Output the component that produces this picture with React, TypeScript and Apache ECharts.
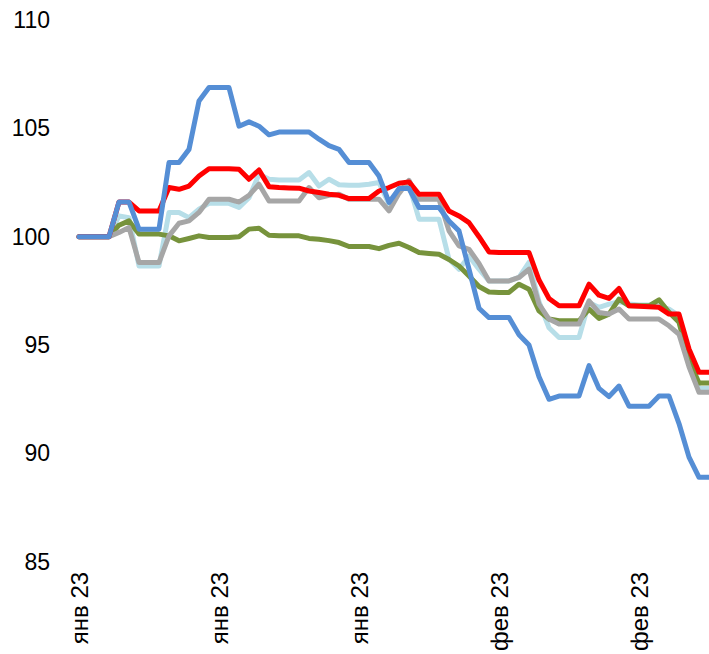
import React, { useEffect, useRef } from "react";
import * as echarts from "echarts";

// 64 daily points, 1 Jan 2023 .. 5 Mar 2023
const startDate = new Date(Date.UTC(2023, 0, 1));
const categories: string[] = Array.from({ length: 64 }, (_, i) => {
  const d = new Date(startDate.getTime() + i * 86400000);
  return d.toISOString().slice(0, 10);
});

const monthNames = ["янв", "фев", "мар", "апр", "май", "июн", "июл", "авг", "сен", "окт", "ноя", "дек"];

const seriesBlue = [
  100, 100, 100, 100, 101.6, 101.6, 100.35, 100.35, 100.35, 103.42,
  103.42, 104.03, 106.26, 106.88, 106.88, 106.88, 105.1, 105.3, 105.1, 104.7,
  104.83, 104.83, 104.83, 104.83, 104.5, 104.2, 104.03, 103.42, 103.42, 103.42,
  102.8, 101.58, 102.22, 102.22, 101.35, 101.35, 101.35, 100.73, 100.27, 98.5,
  96.7, 96.27, 96.27, 96.27, 95.48, 95.0, 93.54, 92.5, 92.65, 92.65,
  92.65, 94.05, 93.0, 92.62, 93.11, 92.18, 92.18, 92.18, 92.65, 92.65,
  91.38, 89.83, 88.9, 88.9,
];

const seriesRed = [
  100, 100, 100, 100, 101.6, 101.6, 101.19, 101.19, 101.19, 102.27,
  102.19, 102.34, 102.8, 103.14, 103.14, 103.14, 103.11, 102.65, 103.08, 102.31,
  102.27, 102.25, 102.24, 102.11, 102.04, 101.96, 101.91, 101.76, 101.76, 101.76,
  102.11, 102.27, 102.47, 102.53, 101.96, 101.96, 101.96, 101.19, 100.96, 100.65,
  100.0, 99.3, 99.27, 99.27, 99.27, 99.27, 98.0, 97.15, 96.81, 96.81,
  96.81, 97.81, 97.3, 97.15, 97.61, 96.81, 96.79, 96.77, 96.74, 96.43,
  96.43, 94.82, 93.75, 93.75,
];

const seriesLightBlue = [
  100, 100, 100, 100, 100.96, 100.88, 98.65, 98.65, 98.65, 101.12,
  101.12, 100.88, 101.27, 101.54, 101.54, 101.54, 101.35, 101.8, 102.88, 102.65,
  102.62, 102.62, 102.62, 102.96, 102.34, 102.65, 102.4, 102.37, 102.37, 102.42,
  102.5, 101.5, 102.2, 102.4, 100.81, 100.81, 100.81, 98.96, 98.5, 99.1,
  98.5, 97.96, 97.96, 97.96, 98.12, 98.81, 97.0, 95.8, 95.35, 95.35,
  95.35, 96.97, 96.74, 96.89, 97.0, 96.9, 96.85, 96.85, 96.8, 96.66,
  96.35, 94.3, 93.0, 93.0,
];

const seriesGreen = [
  100, 100, 100, 100, 100.53, 100.73, 100.12, 100.12, 100.12, 100.04,
  99.81, 99.92, 100.04, 99.96, 99.96, 99.96, 100.0, 100.35, 100.39, 100.07,
  100.04, 100.04, 100.04, 99.92, 99.88, 99.82, 99.73, 99.55, 99.55, 99.55,
  99.45, 99.6, 99.7, 99.5, 99.27, 99.23, 99.19, 98.95, 98.65, 98.19,
  97.7, 97.45, 97.43, 97.43, 97.81, 97.58, 96.58, 96.2, 96.12, 96.12,
  96.12, 96.66, 96.23, 96.43, 97.12, 96.81, 96.81, 96.81, 97.09, 96.51,
  96.05, 94.3, 93.25, 93.25,
];

const seriesGray = [
  100, 100, 100, 100, 100.2, 100.42, 98.81, 98.81, 98.81, 100.04,
  100.62, 100.73, 101.12, 101.73, 101.73, 101.73, 101.6, 101.91, 102.42, 101.65,
  101.65, 101.65, 101.65, 102.27, 101.8, 101.91, 101.96, 101.73, 101.73, 101.73,
  101.73, 101.19, 102.0, 102.6, 101.73, 101.73, 101.73, 100.27, 99.58, 99.42,
  98.77, 97.96, 97.96, 97.96, 98.12, 98.5, 96.89, 96.2, 95.97, 95.97,
  95.97, 97.04, 96.5, 96.43, 96.66, 96.2, 96.2, 96.2, 96.2, 95.89,
  95.5, 94.0, 92.82, 92.82,
];

const FONT = "'Liberation Sans Narrow', 'Arial Narrow', 'Liberation Sans', Arial, sans-serif";

function mkLine(name: string, data: number[], color: string, z: number) {
  return {
    name,
    type: "line",
    data,
    symbol: "none",
    z,
    lineStyle: { color, width: 5, cap: "round", join: "round" },
    itemStyle: { color },
    emphasis: { disabled: true },
  };
}

export default function App() {
  const ref = useRef<HTMLDivElement>(null);
  useEffect(() => {
    if (!ref.current) return;
    const chart = echarts.init(ref.current, null, { renderer: "svg" });
    chart.setOption({
      animation: false,
      backgroundColor: "#ffffff",
      grid: { left: 79, top: 20, width: 630, height: 543 },
      xAxis: {
        type: "category",
        data: categories,
        boundaryGap: false,
        axisLine: { show: false },
        axisTick: { show: false },
        splitLine: { show: false },
        axisLabel: {
          interval: 13,
          rotate: 90,
          margin: 10,
          color: "#000",
          fontSize: 24,
          fontFamily: FONT,
          formatter: (v: string) => {
            const m = parseInt(v.slice(5, 7), 10) - 1;
            return monthNames[m] + " " + v.slice(2, 4);
          },
        },
      },
      yAxis: {
        type: "value",
        min: 85,
        max: 110,
        interval: 5,
        axisLine: { show: false },
        axisTick: { show: false },
        splitLine: { show: false },
        axisLabel: { margin: 29, color: "#000", fontSize: 23, fontFamily: FONT },
      },
      series: [
        mkLine("Серия 5", seriesLightBlue, "#B7DEE8", 1),
        mkLine("Серия 4", seriesGreen, "#77933C", 2),
        mkLine("Серия 3", seriesGray, "#A6A6A6", 3),
        mkLine("Серия 2", seriesRed, "#FF0000", 4),
        mkLine("Серия 1", seriesBlue, "#558ED5", 5),
      ],
    });
    return () => chart.dispose();
  }, []);
  return (
    <div
      ref={ref}
      style={{ position: "fixed", left: 0, top: 0, width: 709, height: 654, background: "#fff" }}
    />
  );
}
